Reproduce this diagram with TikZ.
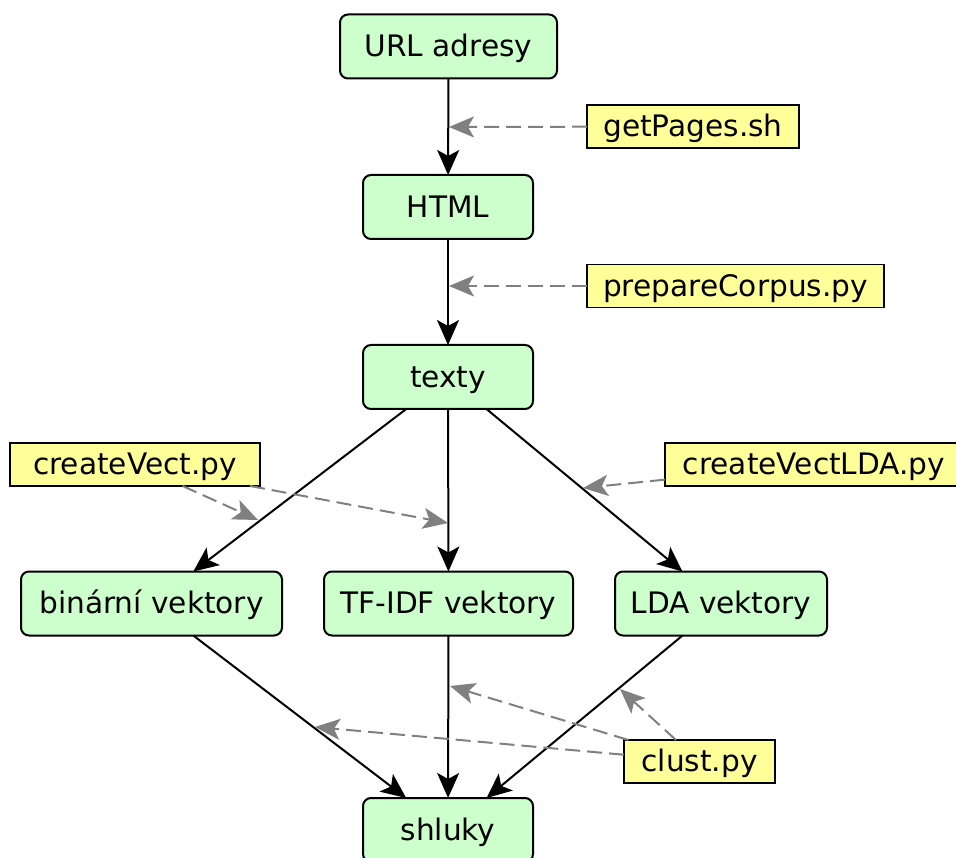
\documentclass[tikz,border=0pt]{standalone}
\usepackage{fontspec}
\setmainfont{DejaVu Sans}
\usetikzlibrary{arrows.meta}
\definecolor{procg}{HTML}{CCFFCC}
\definecolor{scry}{HTML}{FFFF99}
\definecolor{dgray}{HTML}{808080}
\begin{document}
\begin{tikzpicture}[x=1pt,y=-1pt,
  font=\fontsize{29.6}{35}\selectfont,
  proc/.style={draw, line width=2pt, rounded corners=8pt, fill=procg, minimum height=64pt,
    inner sep=0pt, outer sep=0pt, text height=27pt, text depth=6.6pt},
  scr/.style={draw, line width=1.8pt, fill=scry, minimum height=43pt,
    inner sep=0pt, outer sep=0pt, text height=27pt, text depth=6.6pt},
  flow/.style={line width=2pt, -{Stealth[length=25pt,width=22pt,inset=6pt]}},
  use/.style={line width=2pt, draw=dgray, dash pattern=on 15pt off 7pt,
    -{Stealth[length=25pt,width=21pt,inset=6pt,fill=dgray]}}]
\useasboundingbox (0,0) rectangle (956,858);

% process nodes
\node[proc, minimum width=217pt] (url) at (448.5,46.5) {URL adresy};
\node[proc, minimum width=170pt] (html) at (448,207) {HTML};
\node[proc, minimum width=170pt] (texty) at (448,377) {texty};
\node[proc, minimum width=261pt] (bin) at (151.5,603.5) {binární vektory};
\node[proc, minimum width=249pt] (tfidf) at (448.5,603.5) {TF-IDF vektory};
\node[proc, minimum width=212pt] (lda) at (721,603.5) {LDA vektory};
\node[proc, minimum width=170pt] (shluky) at (448,830) {shluky};

% script nodes
\node[scr, minimum width=212pt] (getp) at (693,126.5) {getPages.sh};
\node[scr, minimum width=297pt] (prep) at (735.5,286) {prepareCorpus.py};
\node[scr, minimum width=250pt] (cv) at (135,464.5) {createVect.py};
\node[scr, minimum width=298pt] (cvlda) at (814,464.5) {createVectLDA.py};
\node[scr, minimum width=151pt] (clust) at (699.5,761.5) {clust.py};

% free ends of the dashed connectors
\coordinate (p1) at (449,127);
\coordinate (p2) at (449,286);
\coordinate (c1) at (258,520);
\coordinate (c2) at (448,523);
\coordinate (c3) at (583,488);
\coordinate (k1) at (315,727);
\coordinate (k2) at (450,686);
\coordinate (k3) at (620,689);

% flow arrows
\draw[flow] (url) -- (html);
\draw[flow] (html) -- (texty);
\draw[flow] (texty) -- (bin);
\draw[flow] (texty) -- (tfidf);
\draw[flow] (texty) -- (lda);
\draw[flow] (bin) -- (shluky);
\draw[flow] (tfidf) -- (shluky);
\draw[flow] (lda) -- (shluky);

% script arrows
\draw[use] (getp) -- (p1);
\draw[use] (prep) -- (p2);
\draw[use] (cv) -- (c1);
\draw[use] (cv) -- (c2);
\draw[use] (cvlda) -- (c3);
\draw[use] (clust) -- (k1);
\draw[use] (clust) -- (k2);
\draw[use] (clust) -- (k3);
\end{tikzpicture}
\end{document}
